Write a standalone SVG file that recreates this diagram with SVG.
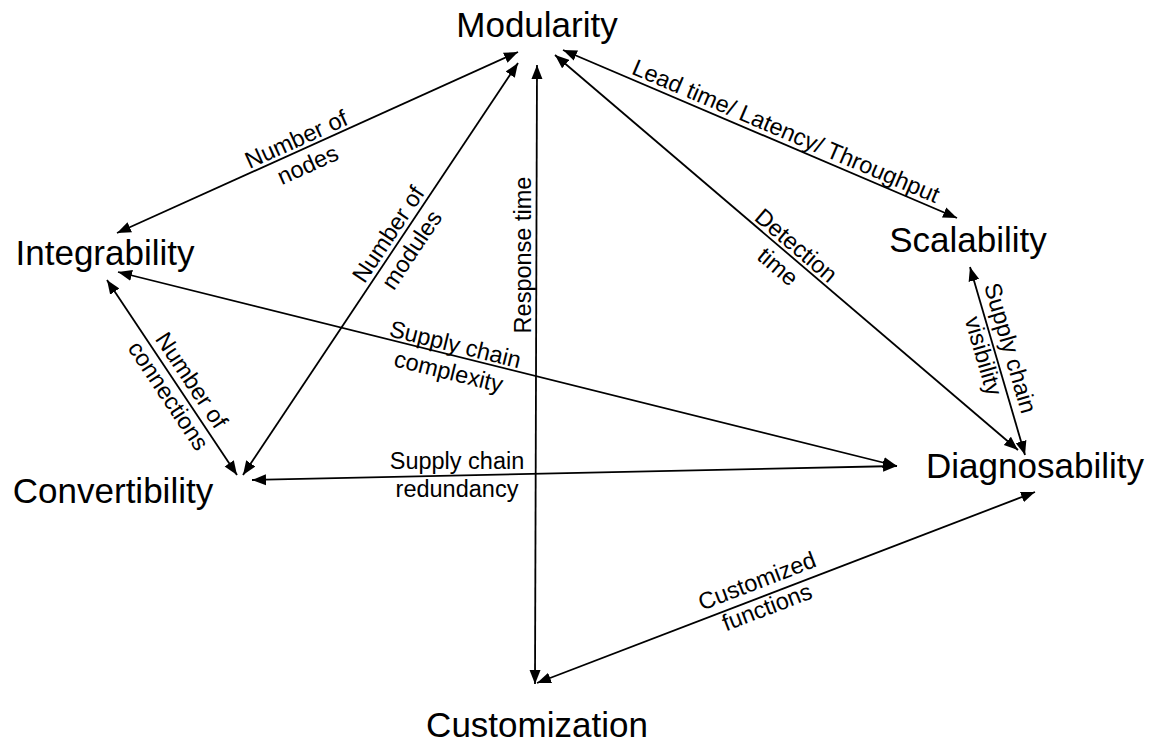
<svg xmlns="http://www.w3.org/2000/svg" width="1155" height="743" viewBox="0 0 1155 743">
<style>
.node{font-family:"Liberation Sans",Arial,sans-serif;font-size:35px;fill:#000;text-anchor:middle}
.lbl{font-family:"Liberation Sans",Arial,sans-serif;font-size:23.5px;fill:#000;text-anchor:middle}
.edge{stroke:#000;stroke-width:1.8;fill:none;marker-start:url(#ah);marker-end:url(#ah)}
</style>
<defs>
<marker id="ah" markerUnits="userSpaceOnUse" markerWidth="15" markerHeight="12" refX="14" refY="5.5" orient="auto-start-reverse" viewBox="0 0 15 11">
<path d="M0,0 L14,5.5 L0,11 z" fill="#000"/>
</marker>
</defs>
<rect width="1155" height="743" fill="#fff"/>
<g id="connectors">
<line class="edge" x1="117" y1="233" x2="518" y2="52"/>
<line class="edge" x1="243" y1="475" x2="518" y2="63"/>
<line class="edge" x1="535" y1="684" x2="537" y2="65"/>
<line class="edge" x1="1018" y1="450" x2="555" y2="55"/>
<line class="edge" x1="563" y1="50" x2="957" y2="218"/>
<line class="edge" x1="970" y1="267" x2="1025" y2="455"/>
<line class="edge" x1="107" y1="280" x2="237" y2="475"/>
<line class="edge" x1="118" y1="272" x2="897" y2="466"/>
<line class="edge" x1="252" y1="480" x2="897" y2="466"/>
<line class="edge" x1="537" y1="683" x2="1035" y2="492"/>
<text class="lbl" transform="translate(302,152) rotate(-24.3)"><tspan x="0" y="-6">Number of</tspan><tspan x="0" y="22">nodes</tspan></text>
<text class="lbl" transform="translate(400,242) rotate(-56.3)"><tspan x="0" y="-6">Number of</tspan><tspan x="0" y="22">modules</tspan></text>
<text class="lbl" transform="translate(531,255) rotate(-90)">Response time</text>
<text class="lbl" transform="translate(781,143) rotate(23.1)" y="-5">Lead time/ Latency/ Throughput</text>
<text class="lbl" transform="translate(787,256) rotate(40.5)"><tspan x="0" y="-6">Detection</tspan><tspan x="0" y="22">time</tspan></text>
<text class="lbl" transform="translate(997,352) rotate(73.7)"><tspan x="0" y="-6">Supply chain</tspan><tspan x="0" y="22">visibility</tspan></text>
<text class="lbl" transform="translate(180,388) rotate(56.3)"><tspan x="0" y="-6">Number of</tspan><tspan x="0" y="22">connections</tspan></text>
<text class="lbl" transform="translate(452,358) rotate(13.9)"><tspan x="0" y="-6">Supply chain</tspan><tspan x="0" y="22">complexity</tspan></text>
<text class="lbl"><tspan x="457" y="469">Supply chain</tspan><tspan x="457" y="497">redundancy</tspan></text>
<text class="lbl" transform="translate(762,594) rotate(-21)"><tspan x="0" y="-6">Customized</tspan><tspan x="0" y="22">functions</tspan></text>
</g>
<g id="modularity"><text class="node" x="537" y="37">Modularity</text></g>
<g id="integrability"><text class="node" x="105" y="265">Integrability</text></g>
<g id="convertibility"><text class="node" x="113" y="503">Convertibility</text></g>
<g id="scalability"><text class="node" x="968" y="252">Scalability</text></g>
<g id="diagnosability"><text class="node" x="1035" y="478">Diagnosability</text></g>
<g id="customization"><text class="node" x="537" y="737">Customization</text></g>
</svg>
